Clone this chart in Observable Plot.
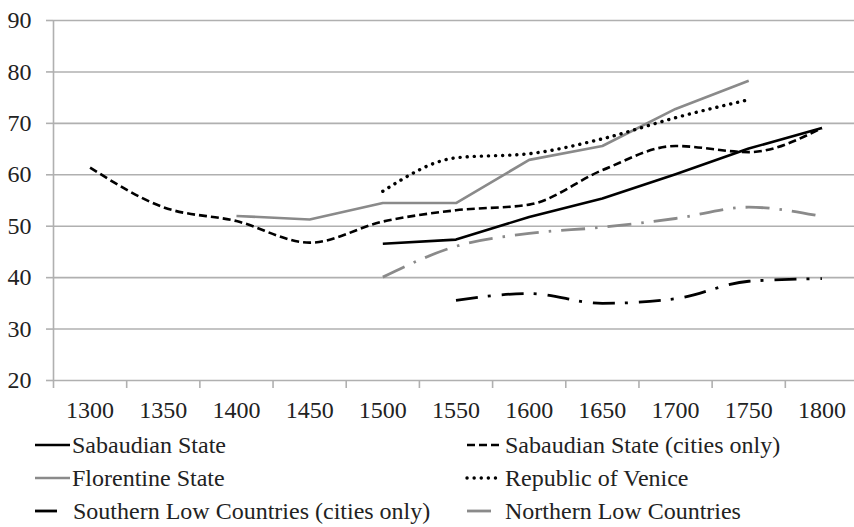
<!DOCTYPE html>
<html>
<head>
<meta charset="utf-8">
<script src="https://cdn.jsdelivr.net/npm/d3@7"></script>
<script src="https://cdn.jsdelivr.net/npm/@observablehq/plot@0.6"></script>
<style>
  html, body { margin: 0; padding: 0; background: #fff; }
  #wrap { position: relative; width: 854px; height: 527px; overflow: hidden; font-family: "Liberation Serif", "Times New Roman", "DejaVu Serif", serif; }
  #wrap svg { display: block; }
  #wrap svg text { font-family: "Liberation Serif", "Times New Roman", "DejaVu Serif", serif !important; }
</style>
</head>
<body>
<div id="wrap"></div>
<script>
const years = [1300, 1350, 1400, 1450, 1500, 1550, 1600, 1650, 1700, 1750, 1800];
const yTicks = [20, 30, 40, 50, 60, 70, 80, 90];

const sabaudian        = [null, null, null, null, 46.6, 47.4, 51.8, 55.4, 60.1, 65.1, 69.1];
const sabaudianCities  = [61.4, 53.7, 51.0, 46.8, 50.9, 53.1, 54.2, 60.9, 65.6, 64.4, 69.1];
const florentine       = [null, null, 52.0, 51.3, 54.5, 54.5, 62.9, 65.6, 72.8, 78.3, null];
const venice           = [null, null, null, null, 56.8, 63.3, 64.1, 67.0, 71.1, 74.6, null];
const southernLow      = [null, null, null, null, null, 35.6, 36.9, 35.0, 35.9, 39.3, 39.8];
const northernLow      = [null, null, null, null, 40.1, 46.1, 48.6, 49.8, 51.5, 53.7, 51.9];

const seriesNames = [
  "Sabaudian State",
  "Sabaudian State (cities only)",
  "Florentine State",
  "Republic of Venice",
  "Southern Low Countries (cities only)",
  "Northern Low Countries"
];
const seriesValues = [sabaudian, sabaudianCities, florentine, venice, southernLow, northernLow];

const styles = [
  {stroke: "#000", width: 2.6, dash: null, cap: "butt", curve: "linear"},
  {stroke: "#000", width: 2.6, dash: "8,4", cap: "butt", curve: "monotone-x"},
  {stroke: "#8a8a8a", width: 2.6, dash: null, cap: "butt", curve: "linear"},
  {stroke: "#000", width: 3.4, dash: "0.1,7", cap: "round", curve: "monotone-x"},
  {stroke: "#000", width: 2.8, dash: "22,10,3,11", cap: "butt", curve: "monotone-x"},
  {stroke: "#8a8a8a", width: 2.8, dash: "24,10,2.5,10", cap: "butt", curve: "monotone-x"}
];

const tables = seriesValues.map((vals, s) =>
  years.map((yr, i) => ({year: yr, value: vals[i], series: seriesNames[s]})).filter(d => d.value != null)
);

const boundaries = d3.range(0, years.length + 1).map(i => 1275 + i * 50);
const gridColor = "#b0b0b0";
const fontStack = '"Liberation Serif", "Times New Roman", "DejaVu Serif", serif';

const chart = Plot.plot({
  width: 854,
  height: 426,
  marginLeft: 53,
  marginTop: 20,
  marginBottom: 46,
  marginRight: 0,
  style: {fontFamily: fontStack, fontSize: "24px", color: "#222", background: "#fff"},
  x: {type: "linear", domain: [1275, 1825], range: [53, 858]},
  y: {domain: [20, 90], range: [380, 20]},
  marks: [
    Plot.ruleY(yTicks.filter(v => v > 20), {y: d => d, x1: 1275, x2: 1825, stroke: gridColor, strokeWidth: 1.6}),
    Plot.axisY({ticks: yTicks, tickSize: 7, tickPadding: 15, stroke: gridColor, strokeWidth: 1.6, label: null, fontSize: 24, tickFormat: d => String(d)}),
    Plot.axisX({ticks: boundaries, tickSize: 8, tickFormat: () => "", stroke: gridColor, strokeWidth: 1.6, label: null}),
    Plot.axisX({ticks: years, tickSize: 0, tickPadding: 20, tickFormat: d => String(d), label: null, fontSize: 24}),
    Plot.ruleX([1275], {y1: 20, y2: 90, stroke: gridColor, strokeWidth: 1.6}),
    Plot.ruleY([20], {x1: 1275, x2: 1825, stroke: gridColor, strokeWidth: 1.6}),
    ...tables.map((t, s) => Plot.line(t, {
      x: "year", y: "value",
      stroke: styles[s].stroke,
      strokeWidth: styles[s].width,
      strokeDasharray: styles[s].dash,
      strokeLinecap: styles[s].cap,
      curve: styles[s].curve
    }))
  ]
});

const wrap = document.getElementById("wrap");
wrap.appendChild(chart);

// legend below the plot
const legendPos = [
  {sx: 35, tx: 72, row: 0},
  {sx: 467, tx: 505, row: 0},
  {sx: 35, tx: 72, row: 1},
  {sx: 467, tx: 505, row: 1},
  {sx: 35, tx: 73, row: 2},
  {sx: 467, tx: 505, row: 2}
];
const legend = d3.create("svg").attr("width", 854).attr("height", 101)
  .attr("font-family", fontStack);
seriesNames.forEach((name, s) => {
  const p = legendPos[s];
  const cy = 19 + p.row * 33;
  const st = styles[s];
  const swLen = p.row === 2 ? 26 : 35;
  legend.append("line")
    .attr("x1", p.sx).attr("x2", p.sx + swLen)
    .attr("y1", cy).attr("y2", cy)
    .attr("stroke", st.stroke)
    .attr("stroke-width", st.width)
    .attr("stroke-dasharray", st.dash)
    .attr("stroke-linecap", st.cap);
  legend.append("text")
    .attr("x", p.tx).attr("y", cy + 8)
    .attr("font-size", 24)
    .attr("fill", "#222")
    .text(name);
});
wrap.appendChild(legend.node());
</script>
</body>
</html>
